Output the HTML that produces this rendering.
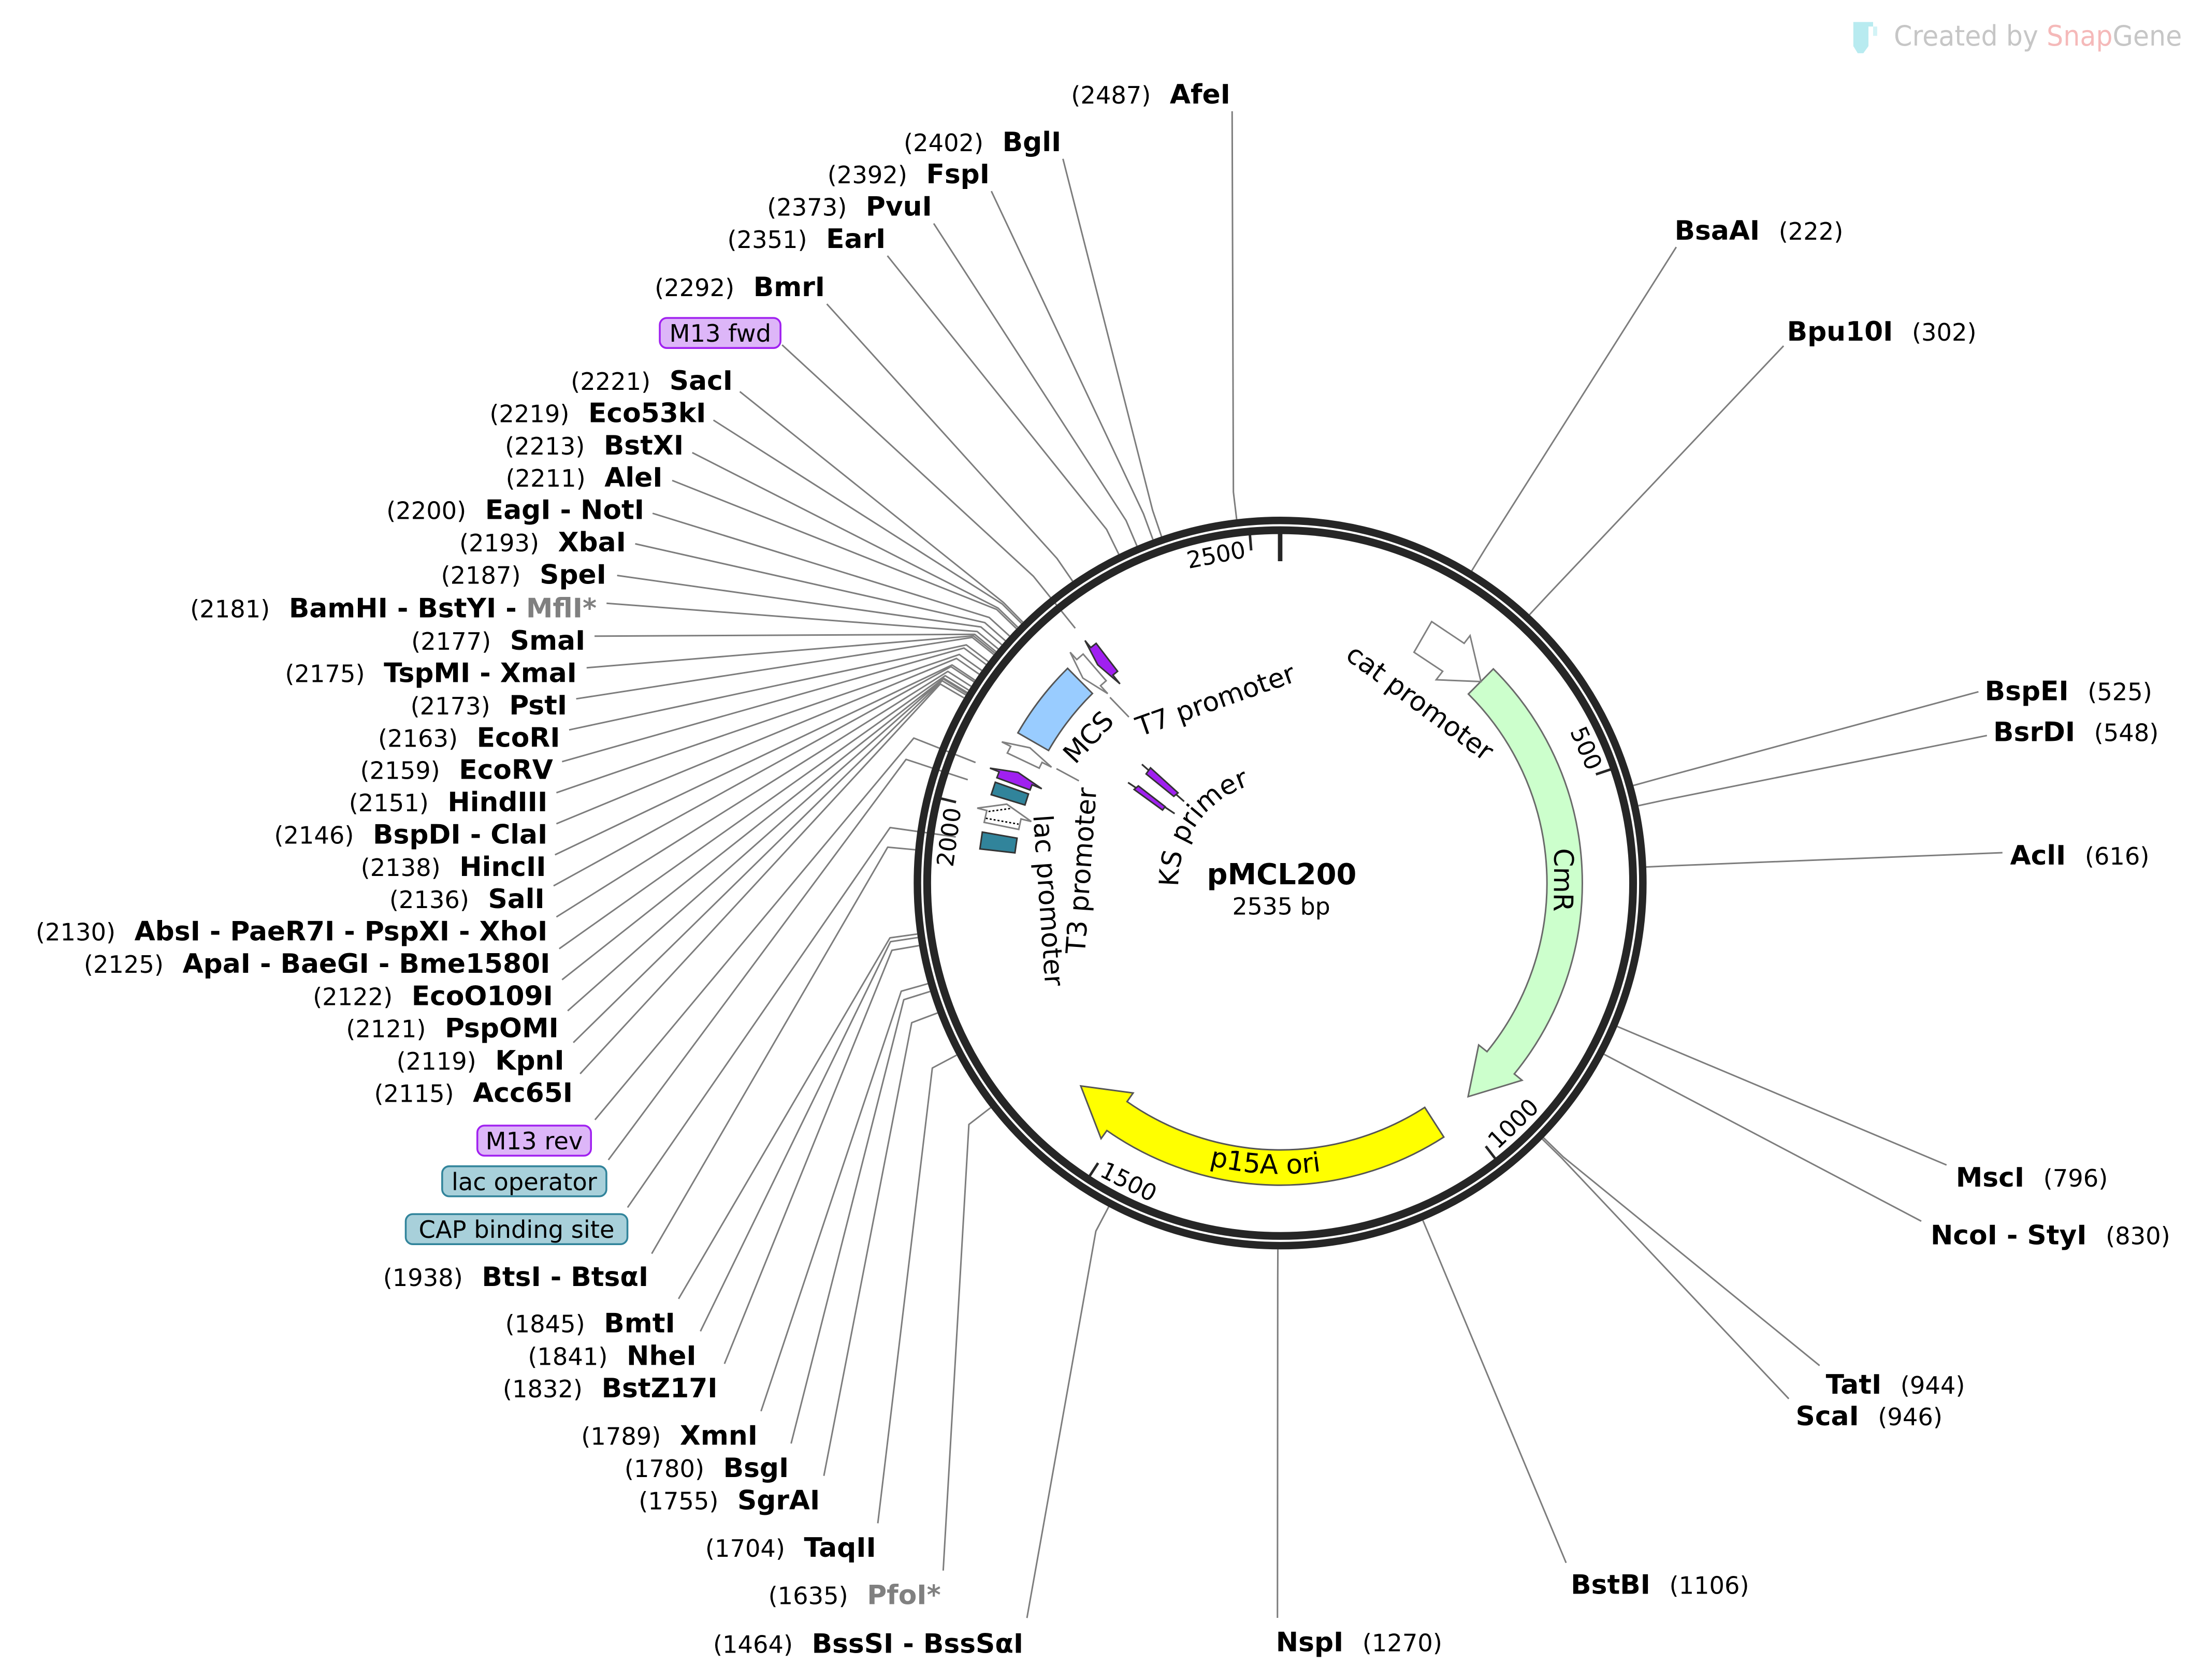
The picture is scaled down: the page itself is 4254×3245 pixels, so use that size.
<!DOCTYPE html>
<html>
<head>
<meta charset="utf-8">
<style>
html,body{margin:0;padding:0;background:#fff;}
svg{display:block;}
text{font-family:"DejaVu Sans","Liberation Sans",sans-serif;fill:#000;}
.lb{font-size:17px;}
.b{font-weight:bold;font-size:19px;}
.g{fill:#808080;}
.ln{fill:none;stroke:#7d7d7d;stroke-width:1.1;stroke-linejoin:round;}
.tk{font-size:16.5px;}
.in{font-size:19px;}
</style>
</head>
<body>
<svg xmlns="http://www.w3.org/2000/svg" width="4254" height="3245" viewBox="0 0 1560 1190">
<rect x="0" y="0" width="1560" height="1190" fill="#fff"/>

<!-- label lines -->
<g class="ln">
<polyline points="872.5,78.8 873.4,348.5 875.7,367.8"/>
<polyline points="752.7,112.5 816.2,361.5 822.5,380.0"/>
<polyline points="702,135.4 809.7,363.9 816.4,382.1"/>
<polyline points="661.2,158.3 797.4,368.7 805.1,386.7"/>
<polyline points="628.4,181.2 783.6,375.0 792.2,392.5"/>
<polyline points="585.5,215.3 748.5,395.6 759.5,411.6"/>
<polyline points="553.8,244.3 731.7,408.1 761.4,445.0"/>
<polyline points="523.9,277.4 710.6,426.8 724.3,440.7"/>
<polyline points="505.2,297.6 709.7,427.8 723.4,441.6"/>
<polyline points="490.2,320.6 706.7,430.7 720.7,444.3"/>
<polyline points="476,340.3 705.8,431.7 719.8,445.3"/>
<polyline points="462.1,363.6 700.5,437.4 714.9,450.5"/>
<polyline points="449.8,385.2 697.3,441.0 711.9,453.8"/>
<polyline points="437,407.6 694.6,444.1 709.4,456.7"/>
<polyline points="429.5,427.3 691.9,447.3 706.9,459.7"/>
<polyline points="421,450.6 690.2,449.3 705.3,461.6"/>
<polyline points="415.4,473 689.3,450.4 704.5,462.6"/>
<polyline points="408,495 688.5,451.5 703.7,463.6"/>
<polyline points="403,517 684.3,456.8 699.8,468.6"/>
<polyline points="398,539.5 682.6,459.0 698.3,470.7"/>
<polyline points="394,561.5 679.3,463.6 695.2,474.9"/>
<polyline points="394,583.5 677.3,466.4 693.3,477.5"/>
<polyline points="393,605.5 674.2,471.0 690.4,481.8"/>
<polyline points="392,627.5 673.4,472.2 689.7,482.9"/>
<polyline points="394,649.5 671.2,475.6 687.6,486.1"/>
<polyline points="396,672 669.3,478.6 685.9,488.8"/>
<polyline points="398,694 668.3,480.4 684.9,490.5"/>
<polyline points="402,716 667.9,480.9 684.5,491.1"/>
<polyline points="406,738.5 667.2,482.2 683.9,492.2"/>
<polyline points="410.8,760.6 665.8,484.5 682.6,494.3"/>
<polyline points="421.3,793.2 647.1,522.8 690.8,540.1"/>
<polyline points="430.8,821.6 641.6,537.9 685.3,552.3"/>
<polyline points="444.4,855.3 630.3,586.2 676.8,592.8"/>
<polyline points="461.5,888 628.6,600.1 648.1,601.9"/>
<polyline points="480.5,920 630.2,664.3 649.5,661.6"/>
<polyline points="496,943 630.6,667.0 649.9,664.1"/>
<polyline points="513.0,966.0 631.6,673.1 650.8,669.8"/>
<polyline points="538.9,999.6 638.2,702.1 657.0,696.8"/>
<polyline points="560.2,1022.5 640.0,708.1 658.6,702.3"/>
<polyline points="583.4,1045.4 645.6,724.4 663.9,717.5"/>
<polyline points="621.6,1079 660.2,756.5 677.4,747.4"/>
<polyline points="667.9,1112.5 686.1,796.5 701.5,784.6"/>
<polyline points="727.2,1146.1 776.0,872.1 785.1,854.8"/>
<polyline points="904.6,1146 904.8,904.5 904.9,885.0"/>
<polyline points="1109,1107 1015.2,882.5 1007.6,864.5"/>
<polyline points="1266.7,990.8 1106.1,820.5 1092.1,806.8"/>
<polyline points="1288.5,967.3 1107.0,819.5 1093.0,805.9"/>
<polyline points="1360.5,865 1153.2,755.9 1135.9,746.8"/>
<polyline points="1378.4,825.2 1163.3,734.7 1145.3,727.1"/>
<polyline points="1418,604 1185.2,613.2 1165.7,614.1"/>
<polyline points="1407,521 1179.2,566.6 1160.2,570.7"/>
<polyline points="1401,490 1175.4,551.2 1156.6,556.4"/>
<polyline points="1263,245 1096.4,421.1 1083.1,435.4"/>
<polyline points="1187,175 1052.4,387.7 1042.2,404.3"/>
<!-- inner connectors -->
<line x1="786" y1="494" x2="799.4" y2="507.9"/>
<line x1="748.1" y1="544.5" x2="764" y2="553.1"/>
</g>

<!-- backbone rings -->
<circle cx="906.5" cy="625.5" r="256.85" fill="none" stroke="#262626" stroke-width="5.3"/>
<circle cx="906.5" cy="625.5" r="249.95" fill="none" stroke="#262626" stroke-width="5.5"/>

<!-- ticks -->
<g stroke="#262626" stroke-width="1.8" fill="none">
<line x1="1130.1" y1="548.5" x2="1140.5" y2="545.0"/>
<line x1="1052.1" y1="811.9" x2="1058.8" y2="820.6"/>
<line x1="777.6" y1="823.8" x2="771.6" y2="833.0"/>
<line x1="677.0" y1="568.2" x2="666.4" y2="565.6"/>
<line x1="886.0" y1="389.9" x2="885.1" y2="378.9"/>
</g>
<line x1="906.5" y1="378" x2="906.5" y2="397.5" stroke="#262626" stroke-width="3.2"/>

<!-- features -->
<path d="M1057.5,473.8 A214,214 0 0 1 1072.3,760.7 L1077.8,765.2 L1039.6,776.8 L1047.1,740.2 L1053.0,744.9 A189,189 0 0 0 1039.8,491.6 Z" fill="#ccffcc" stroke="#6a6a6a" stroke-width="1.1"/>
<path d="M1022.4,805.4 A214,214 0 0 1 783.8,800.8 L779.7,806.5 L765.3,769.2 L802.4,774.2 L798.1,780.3 A189,189 0 0 0 1008.9,784.4 Z" fill="#ffff00" stroke="#555" stroke-width="1.1"/>
<polygon points="1013.8,440.3 1036.8,455.7 1041.0,450.2 1048.7,482.8 1017.0,481.5 1021.6,475.5 1001.3,462.0" fill="#fff" stroke="#808080" stroke-width="1.1"/>
<path d="M720.8,519.1 A214,214 0 0 1 756.0,473.4 L773.6,491.2 A189,189 0 0 0 742.5,531.6 Z" fill="#99ccff" stroke="#555" stroke-width="1.1"/>
<polygon points="767.0,463.3 762.5,467.2 757.8,462.0 766.8,480.3 784.4,491.3 779.3,485.7 783.3,482.2" fill="#fff" stroke="#808080" stroke-width="1.1"/>
<polygon points="713.3,533.4 715.7,528.7 709.4,525.5 729.3,529.7 744.6,543.4 737.9,540.0 735.9,544.1" fill="#fff" stroke="#808080" stroke-width="1.1"/>
<polygon points="696.9,582.5 698.8,574.1 692.0,572.4 712.9,569.6 730.3,581.9 723.0,580.1 721.4,587.5" fill="#fff" stroke="#808080" stroke-width="1.1"/>
<g stroke="#000" stroke-width="1" stroke-dasharray="1.4 1.4" fill="none">
<line x1="698.1" y1="579.6" x2="721.3" y2="583.8"/>
<line x1="700" y1="574.8" x2="716" y2="572.6"/>
</g>
<polygon points="776.2,455.7 772.4,458.7 768.3,453.7 777.3,470.9 793.1,484.4 788.1,478.2 791.4,475.5" fill="#a020f0" stroke="#333" stroke-width="1.1"/>
<polygon points="705.9,550.9 707.5,546.7 701.0,544.1 720.9,547.1 737.7,558.7 730.8,555.9 729.4,559.6" fill="#a020f0" stroke="#333" stroke-width="1.1"/>
<polygon points="701.9,562.9 704.8,554.1 728.3,562.4 725.8,570.2" fill="#31849b" stroke="#333" stroke-width="1.1"/>
<polygon points="693.9,601.3 695.6,589.4 720.2,593.7 718.7,604.1" fill="#31849b" stroke="#333" stroke-width="1.1"/>
<g stroke="#333" stroke-width="1.2">
<line x1="808.6" y1="541.4" x2="838.5" y2="567.7"/>
<line x1="798.8" y1="554.3" x2="831.8" y2="576.3"/>
</g>
<polygon points="814.7,543.9 834.2,561.6 831.2,564.1 811.6,548.2" fill="#a020f0" stroke="#333" stroke-width="1.1"/>
<polygon points="806.1,556.7 825.1,571.4 823.2,573.8 803.1,559.2" fill="#a020f0" stroke="#333" stroke-width="1.1"/>

<!-- tick labels -->
<text class="tk" text-anchor="middle" dy="0.36em" transform="translate(861.1,392.9) rotate(-11.05)">2500</text>
<text class="tk" text-anchor="middle" dy="0.36em" transform="translate(1123.4,529.9) rotate(66.2)">500</text>
<text class="tk" text-anchor="middle" dy="0.36em" transform="translate(1071.4,795.7) rotate(-44.1)">1000</text>
<text class="tk" text-anchor="middle" dy="0.36em" transform="translate(799.3,836.9) rotate(26.9)">1500</text>
<text class="tk" text-anchor="middle" dy="0.36em" transform="translate(671.8,592.9) rotate(-82.1)">2000</text>

<!-- inner feature labels -->
<text class="in" text-anchor="middle" dy="0.3em" transform="translate(1005,498.3) rotate(36.5)">cat promoter</text>
<text class="in" text-anchor="middle" dy="0.32em" transform="translate(860.9,496.3) rotate(-19.5)">T7 promoter</text>
<text class="in" text-anchor="middle" dy="0.36em" transform="translate(770.5,522) rotate(-47)">MCS</text>
<text class="in" text-anchor="middle" dy="0.3em" transform="translate(766.6,616.8) rotate(-86)">T3 promoter</text>
<text class="in" text-anchor="middle" dy="0.3em" transform="translate(741.6,637.8) rotate(86)">lac promoter</text>
<text class="in" text-anchor="middle" dy="0.36em" transform="translate(1107.3,623.3) rotate(90.6)">CmR</text>
<defs>
<path id="ksarc" d="M834.5,628.0 A72.5,72.5 0 0 1 902.7,553.1"/>
<path id="oriarc" d="M829.3,816.5 A206,206 0 0 0 963.3,823.5"/>
</defs>
<text class="in"><textPath href="#ksarc">KS primer</textPath></text>
<text class="in" text-anchor="middle"><textPath href="#oriarc" startOffset="50%">p15A ori</textPath></text>

<!-- center -->
<text x="907.6" y="626.4" text-anchor="middle" font-weight="bold" font-size="20.5">pMCL200</text>
<text x="907.3" y="647.8" text-anchor="middle" font-size="16.8">2535 bp</text>

<!-- feature label boxes -->
<rect x="467.2" y="225.2" width="85.5" height="21.3" rx="5" fill="#ddb6f8" stroke="#a020f0" stroke-width="1.3"/>
<text class="lb" x="510" y="242" text-anchor="middle">M13 fwd</text>
<rect x="338" y="797.3" width="80.5" height="21.3" rx="5" fill="#ddb6f8" stroke="#a020f0" stroke-width="1.3"/>
<text class="lb" x="378.25" y="814.2" text-anchor="middle">M13 rev</text>
<rect x="313.1" y="826.1" width="116.3" height="21.3" rx="5" fill="#a8d0da" stroke="#31849b" stroke-width="1.3"/>
<text class="lb" x="371.25" y="843" text-anchor="middle">lac operator</text>
<rect x="287.3" y="860" width="157" height="21.3" rx="5" fill="#a8d0da" stroke="#31849b" stroke-width="1.3"/>
<text class="lb" x="365.8" y="876.9" text-anchor="middle">CAP binding site</text>

<!-- left / top labels -->
<g class="lb" text-anchor="end">
<text x="871.3" y="73.3">(2487)<tspan class="b" dx="13.4">AfeI</tspan></text>
<text x="751.5" y="107.0">(2402)<tspan class="b" dx="13.4">BglI</tspan></text>
<text x="700.8" y="129.9">(2392)<tspan class="b" dx="13.4">FspI</tspan></text>
<text x="660.0" y="152.8">(2373)<tspan class="b" dx="13.4">PvuI</tspan></text>
<text x="627.2" y="175.7">(2351)<tspan class="b" dx="13.4">EarI</tspan></text>
<text x="584.2" y="209.7">(2292)<tspan class="b" dx="13.4">BmrI</tspan></text>
<text x="518.9" y="276.1">(2221)<tspan class="b" dx="13.4">SacI</tspan></text>
<text x="500.0" y="299.0">(2219)<tspan class="b" dx="13.4">Eco53kI</tspan></text>
<text x="484.1" y="321.9">(2213)<tspan class="b" dx="13.4">BstXI</tspan></text>
<text x="469.2" y="344.8">(2211)<tspan class="b" dx="13.4">AleI</tspan></text>
<text x="456.2" y="367.7">(2200)<tspan class="b" dx="13.4">EagI - NotI</tspan></text>
<text x="443.3" y="390.6">(2193)<tspan class="b" dx="13.4">XbaI</tspan></text>
<text x="429.4" y="413.5">(2187)<tspan class="b" dx="13.4">SpeI</tspan></text>
<text x="422.5" y="437.3">(2181)<tspan class="b" dx="13.4">BamHI - BstYI - <tspan class="g">MflI*</tspan></tspan></text>
<text x="414.5" y="460.2">(2177)<tspan class="b" dx="13.4">SmaI</tspan></text>
<text x="408.5" y="483.1">(2175)<tspan class="b" dx="13.4">TspMI - XmaI</tspan></text>
<text x="401.6" y="506.0">(2173)<tspan class="b" dx="13.4">PstI</tspan></text>
<text x="396.6" y="528.9">(2163)<tspan class="b" dx="13.4">EcoRI</tspan></text>
<text x="391.6" y="551.8">(2159)<tspan class="b" dx="13.4">EcoRV</tspan></text>
<text x="387.7" y="574.6">(2151)<tspan class="b" dx="13.4">HindIII</tspan></text>
<text x="387.7" y="597.5">(2146)<tspan class="b" dx="13.4">BspDI - ClaI</tspan></text>
<text x="386.7" y="620.4">(2138)<tspan class="b" dx="13.4">HincII</tspan></text>
<text x="385.7" y="643.3">(2136)<tspan class="b" dx="13.4">SalI</tspan></text>
<text x="387.7" y="666.2">(2130)<tspan class="b" dx="13.4">AbsI - PaeR7I - PspXI - XhoI</tspan></text>
<text x="389.6" y="689.1">(2125)<tspan class="b" dx="13.4">ApaI - BaeGI - Bme1580I</tspan></text>
<text x="391.6" y="712.0">(2122)<tspan class="b" dx="13.4">EcoO109I</tspan></text>
<text x="395.6" y="734.8">(2121)<tspan class="b" dx="13.4">PspOMI</tspan></text>
<text x="399.6" y="757.7">(2119)<tspan class="b" dx="13.4">KpnI</tspan></text>
<text x="405.6" y="780.6">(2115)<tspan class="b" dx="13.4">Acc65I</tspan></text>
<text x="459.2" y="911.0">(1938)<tspan class="b" dx="13.4">BtsI - BtsαI</tspan></text>
<text x="478.1" y="943.8">(1845)<tspan class="b" dx="13.4">BmtI</tspan></text>
<text x="493.1" y="966.9">(1841)<tspan class="b" dx="13.4">NheI</tspan></text>
<text x="508.1" y="989.8">(1832)<tspan class="b" dx="13.4">BstZ17I</tspan></text>
<text x="536.5" y="1023.4">(1789)<tspan class="b" dx="13.4">XmnI</tspan></text>
<text x="558.6" y="1046.3">(1780)<tspan class="b" dx="13.4">BsgI</tspan></text>
<text x="580.6" y="1069.2">(1755)<tspan class="b" dx="13.4">SgrAI</tspan></text>
<text x="620.4" y="1102.7">(1704)<tspan class="b" dx="13.4">TaqII</tspan></text>
<text x="666.2" y="1136.3">(1635)<tspan class="b g" dx="13.4">PfoI*</tspan></text>
<text x="724.7" y="1170.7">(1464)<tspan class="b" dx="13.4">BssSI - BssSαI</tspan></text>
</g>

<!-- right / bottom labels -->
<g class="lb">
<text x="1185.8" y="169.7"><tspan class="b">BsaAI</tspan><tspan dx="13.4">(222)</tspan></text>
<text x="1265.4" y="241.3"><tspan class="b">Bpu10I</tspan><tspan dx="13.4">(302)</tspan></text>
<text x="1405.5" y="496.0"><tspan class="b">BspEI</tspan><tspan dx="13.4">(525)</tspan></text>
<text x="1411.5" y="524.9"><tspan class="b">BsrDI</tspan><tspan dx="13.4">(548)</tspan></text>
<text x="1423.4" y="612.5"><tspan class="b">AclI</tspan><tspan dx="13.4">(616)</tspan></text>
<text x="1385.0" y="840.5"><tspan class="b">MscI</tspan><tspan dx="13.4">(796)</tspan></text>
<text x="1367.1" y="881.4"><tspan class="b">NcoI - StyI</tspan><tspan dx="13.4">(830)</tspan></text>
<text x="1292.9" y="987.2"><tspan class="b">TatI</tspan><tspan dx="13.4">(944)</tspan></text>
<text x="1271.6" y="1009.5"><tspan class="b">ScaI</tspan><tspan dx="13.4">(946)</tspan></text>
<text x="1112.3" y="1128.9"><tspan class="b">BstBI</tspan><tspan dx="13.4">(1106)</tspan></text>
<text x="903.5" y="1169.7"><tspan class="b">NspI</tspan><tspan dx="13.4">(1270)</tspan></text>
</g>

<!-- SnapGene watermark -->
<polygon points="1312.4,15.6 1326.4,15.6 1326.4,18.8 1323.1,18.8 1323.1,32.7 1319.5,37.7 1315.5,37.7 1312.4,32.7" fill="#b8ebf0"/>
<rect x="1326.4" y="18.8" width="2.9" height="6.6" fill="#d2f3f6"/>
<text x="1341.1" y="32.3" font-size="20" textLength="204" lengthAdjust="spacingAndGlyphs" fill="#c6c6c6"><tspan fill="#c6c6c6">Created by </tspan><tspan fill="#f5b9b9">Snap</tspan><tspan fill="#c6c6c6">Gene</tspan></text>
</svg>
</body>
</html>
